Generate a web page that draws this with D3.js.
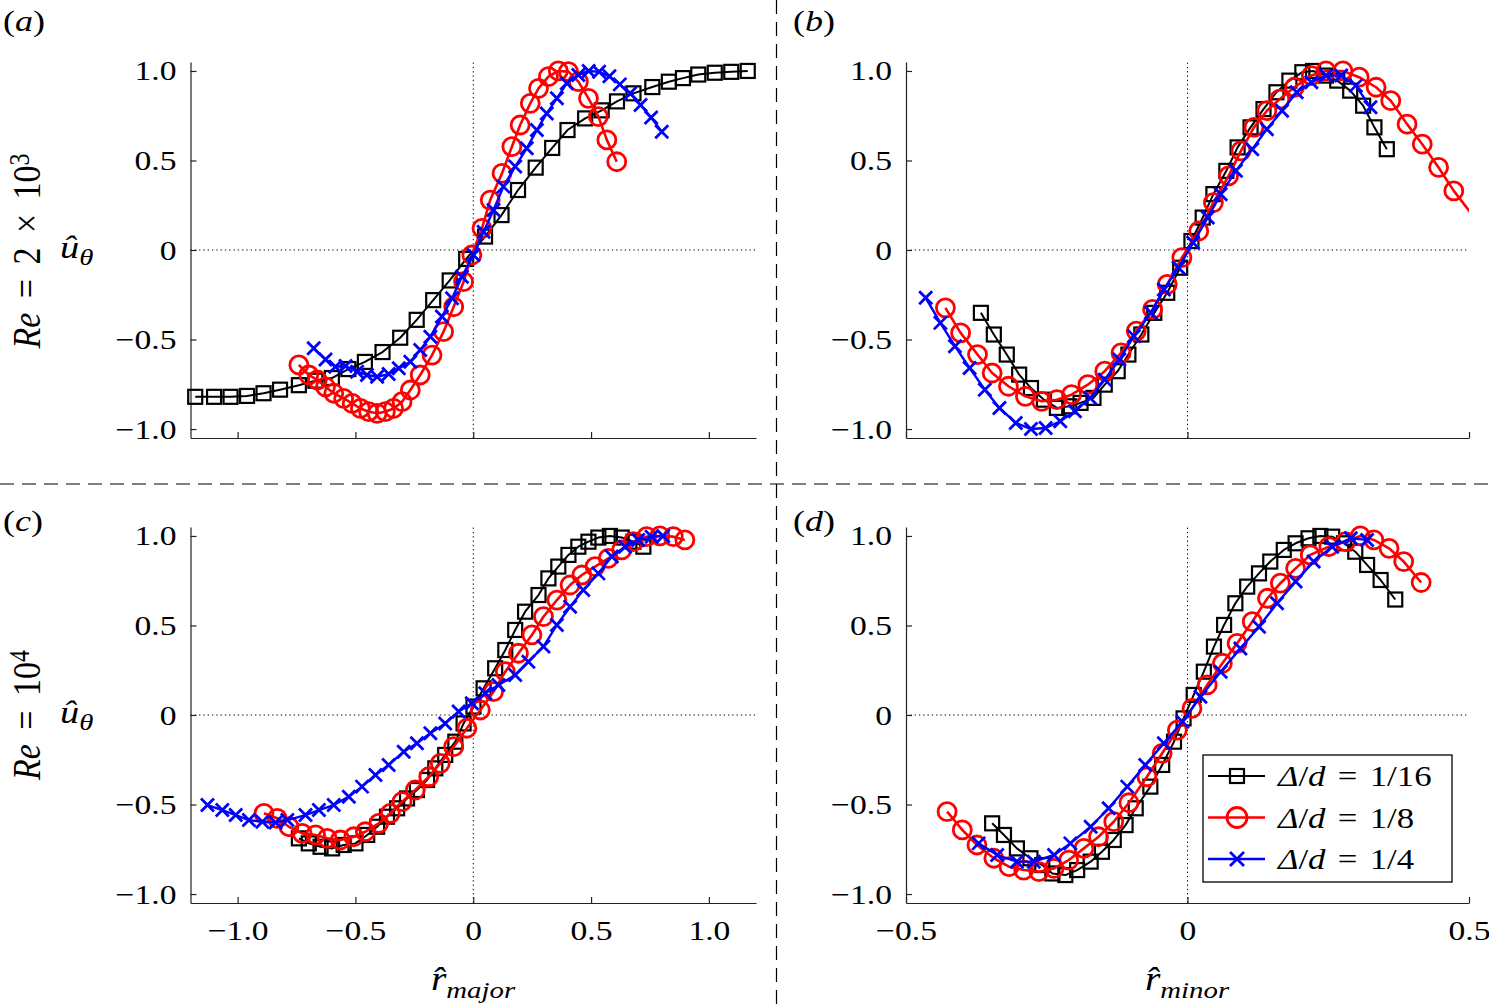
<!DOCTYPE html>
<html>
<head>
<meta charset="utf-8">
<script src="https://cdn.jsdelivr.net/npm/d3@7"></script>
<style>
  body { margin: 0; background: #fff; }
  svg { display: block; }
  text { font-family: "Liberation Serif", "Times New Roman", serif; fill: #000; }
</style>
</head>
<body>
<div id="chart"></div>
<script>
// ---- data: [r, u_theta] ----
// (a) Re = 2e3, major axis
const a16 = [[-1.18,-0.82],[-1.10,-0.82],[-1.03,-0.82],[-0.96,-0.815],[-0.89,-0.80],[-0.82,-0.78],[-0.74,-0.755],
  [-0.67,-0.73],[-0.60,-0.715],[-0.53,-0.665],[-0.46,-0.625],[-0.385,-0.57],[-0.31,-0.49],[-0.24,-0.39],[-0.17,-0.28],
  [-0.10,-0.17],[-0.03,-0.05],[0.05,0.075],[0.12,0.195],[0.19,0.335],[0.265,0.46],[0.335,0.57],[0.40,0.67],[0.475,0.735],
  [0.545,0.78],[0.61,0.83],[0.68,0.875],[0.76,0.91],[0.83,0.94],[0.89,0.96],[0.955,0.98],[1.025,0.99],[1.095,0.995],[1.165,1.0]]
const a8 = [[-0.74,-0.642],[-0.698,-0.698],[-0.662,-0.726],[-0.627,-0.764],[-0.592,-0.80],[-0.55,-0.829],[-0.514,-0.857],
  [-0.479,-0.885],[-0.444,-0.903],[-0.408,-0.912],[-0.373,-0.903],[-0.338,-0.885],[-0.302,-0.847],[-0.267,-0.782],
  [-0.225,-0.698],[-0.175,-0.587],[-0.126,-0.456],[-0.083,-0.317],[-0.041,-0.177],[-0.006,-0.028],[0.037,0.121],
  [0.072,0.279],[0.122,0.428],[0.164,0.577],[0.199,0.698],[0.242,0.819],[0.277,0.903],[0.319,0.968],[0.361,1.0],
  [0.404,0.996],[0.446,0.94],[0.489,0.847],[0.531,0.745],[0.567,0.615],[0.609,0.493]]
const a4 = [[-0.677,-0.549],[-0.627,-0.611],[-0.585,-0.652],[-0.542,-0.648],[-0.493,-0.68],[-0.451,-0.698],[-0.408,-0.708],
  [-0.359,-0.693],[-0.316,-0.661],[-0.267,-0.624],[-0.225,-0.559],[-0.182,-0.484],[-0.133,-0.372],[-0.09,-0.27],
  [-0.048,-0.149],[0.001,-0.028],[0.044,0.102],[0.086,0.223],[0.128,0.354],[0.178,0.466],[0.227,0.568],[0.27,0.67],
  [0.312,0.763],[0.355,0.847],[0.397,0.931],[0.446,0.978],[0.49,1.0],[0.534,0.995],[0.578,0.97],[0.622,0.925],
  [0.666,0.875],[0.71,0.81],[0.755,0.74],[0.80,0.661]]

// (b) Re = 2e3, minor axis
const b16 = [[-0.367,-0.351],[-0.344,-0.472],[-0.321,-0.584],[-0.299,-0.696],[-0.278,-0.771],[-0.255,-0.836],[-0.232,-0.882],
  [-0.21,-0.873],[-0.19,-0.854],[-0.167,-0.826],[-0.147,-0.752],[-0.124,-0.677],[-0.105,-0.584],[-0.082,-0.472],
  [-0.059,-0.351],[-0.036,-0.239],[-0.013,-0.099],[0.007,0.05],[0.027,0.181],[0.046,0.312],[0.069,0.442],[0.089,0.573],
  [0.112,0.685],[0.135,0.787],[0.158,0.881],[0.181,0.946],[0.204,0.993],[0.223,1.0],[0.246,0.974],[0.266,0.946],
  [0.289,0.89],[0.312,0.806],[0.332,0.685],[0.354,0.563]]
const b8 = [[-0.43,-0.323],[-0.403,-0.463],[-0.373,-0.584],[-0.347,-0.687],[-0.318,-0.761],[-0.288,-0.817],[-0.259,-0.845],
  [-0.232,-0.836],[-0.206,-0.808],[-0.177,-0.752],[-0.147,-0.677],[-0.118,-0.575],[-0.091,-0.453],[-0.062,-0.332],
  [-0.036,-0.192],[-0.01,-0.043],[0.02,0.106],[0.046,0.265],[0.073,0.414],[0.095,0.554],[0.118,0.685],[0.141,0.778],
  [0.164,0.843],[0.19,0.909],[0.22,0.974],[0.246,1.0],[0.276,1.0],[0.305,0.965],[0.335,0.909],[0.361,0.834],
  [0.39,0.703],[0.417,0.591],[0.446,0.461],[0.473,0.33],[0.505,0.2]]
const b4 = [[-0.465,-0.267],[-0.439,-0.407],[-0.413,-0.537],[-0.387,-0.659],[-0.36,-0.78],[-0.334,-0.882],[-0.305,-0.966],
  [-0.278,-1.0],[-0.252,-0.994],[-0.226,-0.957],[-0.2,-0.901],[-0.173,-0.826],[-0.147,-0.724],[-0.121,-0.612],
  [-0.095,-0.481],[-0.065,-0.351],[-0.042,-0.22],[-0.016,-0.099],[0.01,0.041],[0.036,0.181],[0.059,0.312],[0.086,0.442],
  [0.115,0.563],[0.141,0.675],[0.168,0.778],[0.194,0.881],[0.22,0.937],[0.246,0.974],[0.273,0.974],[0.299,0.918],
  [0.325,0.797]]

// (c) Re = 1e4, major axis
const c16 = [[-0.74,-0.689],[-0.698,-0.717],[-0.648,-0.736],[-0.599,-0.745],[-0.55,-0.726],[-0.5,-0.717],[-0.45,-0.67],
  [-0.408,-0.624],[-0.366,-0.568],[-0.323,-0.521],[-0.281,-0.466],[-0.239,-0.419],[-0.196,-0.363],[-0.161,-0.298],
  [-0.119,-0.223],[-0.076,-0.149],[-0.041,-0.047],[0.001,0.047],[0.044,0.149],[0.093,0.261],[0.136,0.363],[0.178,0.475],
  [0.22,0.577],[0.277,0.67],[0.319,0.763],[0.361,0.829],[0.404,0.894],[0.446,0.94],[0.489,0.968],[0.531,0.991],
  [0.58,1.0],[0.63,0.991],[0.68,0.968],[0.722,0.94]]
const c8 = [[-0.888,-0.549],[-0.832,-0.577],[-0.782,-0.624],[-0.726,-0.661],[-0.669,-0.67],[-0.62,-0.689],[-0.564,-0.698],
  [-0.507,-0.68],[-0.458,-0.652],[-0.401,-0.605],[-0.352,-0.549],[-0.302,-0.484],[-0.246,-0.419],[-0.189,-0.345],
  [-0.14,-0.27],[-0.083,-0.177],[-0.027,-0.074],[0.03,0.028],[0.086,0.13],[0.136,0.242],[0.192,0.345],[0.249,0.447],
  [0.298,0.549],[0.355,0.642],[0.411,0.726],[0.461,0.782],[0.517,0.829],[0.573,0.875],[0.63,0.922],[0.679,0.968],
  [0.736,0.996],[0.792,1.0],[0.849,0.996],[0.898,0.978]]
const c4 = [[-1.128,-0.503],[-1.065,-0.531],[-1.008,-0.559],[-0.952,-0.587],[-0.895,-0.596],[-0.839,-0.6],[-0.789,-0.587],
  [-0.712,-0.559],[-0.655,-0.531],[-0.592,-0.503],[-0.528,-0.456],[-0.472,-0.4],[-0.415,-0.335],[-0.359,-0.279],
  [-0.295,-0.205],[-0.239,-0.158],[-0.182,-0.102],[-0.119,-0.047],[-0.062,0.019],[-0.006,0.065],[0.051,0.121],
  [0.107,0.168],[0.178,0.223],[0.234,0.298],[0.298,0.382],[0.355,0.503],[0.411,0.605],[0.467,0.698],[0.531,0.791],
  [0.588,0.885],[0.644,0.94],[0.70,0.978],[0.757,0.996],[0.806,1.0]]

// (d) Re = 1e4, minor axis
const d16 = [[-0.347,-0.605],[-0.326,-0.67],[-0.303,-0.745],[-0.279,-0.80],[-0.258,-0.838],[-0.24,-0.885],[-0.217,-0.894],
  [-0.196,-0.866],[-0.172,-0.819],[-0.152,-0.764],[-0.131,-0.698],[-0.11,-0.615],[-0.092,-0.521],[-0.066,-0.4],
  [-0.045,-0.279],[-0.024,-0.149],[-0.007,-0.019],[0.011,0.112],[0.029,0.242],[0.047,0.382],[0.065,0.503],[0.085,0.624],
  [0.106,0.717],[0.127,0.791],[0.147,0.857],[0.171,0.922],[0.192,0.959],[0.215,0.987],[0.236,1.0],[0.257,0.996],
  [0.278,0.959],[0.298,0.912],[0.319,0.838],[0.343,0.754],[0.369,0.645]]
const d8 = [[-0.427,-0.54],[-0.40,-0.642],[-0.374,-0.726],[-0.344,-0.80],[-0.317,-0.847],[-0.291,-0.866],[-0.264,-0.875],
  [-0.237,-0.857],[-0.211,-0.81],[-0.184,-0.745],[-0.158,-0.68],[-0.131,-0.596],[-0.104,-0.49],[-0.072,-0.345],
  [-0.045,-0.214],[-0.018,-0.084],[0.008,0.037],[0.035,0.168],[0.062,0.289],[0.088,0.4],[0.115,0.521],[0.142,0.652],
  [0.165,0.736],[0.192,0.819],[0.218,0.894],[0.251,0.94],[0.281,0.968],[0.307,1.0],[0.331,0.978],[0.358,0.931],
  [0.384,0.857],[0.415,0.74]]
const d4 = [[-0.371,-0.717],[-0.338,-0.782],[-0.303,-0.819],[-0.273,-0.819],[-0.237,-0.782],[-0.208,-0.717],[-0.172,-0.624],
  [-0.14,-0.521],[-0.107,-0.4],[-0.075,-0.279],[-0.042,-0.158],[-0.009,-0.037],[0.023,0.102],[0.059,0.242],[0.094,0.372],
  [0.127,0.493],[0.159,0.624],[0.192,0.745],[0.224,0.857],[0.257,0.94],[0.29,0.987],[0.319,0.978]]

const majorTicks = [-1, -0.5, 0, 0.5, 1]
const minorTicks = [-0.5, 0, 0.5]
const yTicks = [-1, -0.5, 0, 0.5, 1]
const legendLabels = ["1/16", "1/8", "1/4"]

const w = 1489
const h = 1006
const sx = 1.2   // the figure's text is a bit wide

const styles = [
  { color: "#000", lw: 2, mw: 2.2, marker: "square" },
  { color: "#ff0000", lw: 2.6, mw: 2.8, marker: "circle" },
  { color: "#0000ff", lw: 2.4, mw: 2.8, marker: "cross" }
]

const svg = d3.select("#chart")
  .append("svg")
  .attr("width", w)
  .attr("height", h)

function stretched(g, x, y, anchor) {
  return g.append("text")
    .attr("transform", `translate(${x},${y}) scale(${sx},1)`)
    .attr("text-anchor", anchor)
}

function drawMarker(g, kind, color, width, size) {
  if (kind === "square") {
    g.append("rect").attr("x", -size / 2).attr("y", -size / 2)
      .attr("width", size).attr("height", size)
      .attr("fill", "none").attr("stroke", color).attr("stroke-width", width)
  } else if (kind === "circle") {
    g.append("circle").attr("r", size / 2)
      .attr("fill", "none").attr("stroke", color).attr("stroke-width", width)
  } else {
    const s = size / 2
    g.append("path").attr("d", `M${-s},${-s}L${s},${s}M${-s},${s}L${s},${-s}`)
      .attr("fill", "none").attr("stroke", color).attr("stroke-width", width)
  }
}
const markerSize = { square: 14, circle: 18, cross: 13 }

const fmt = d => d === 0 ? "0" : d3.format(".1f")(d)

const panels = [
  { id: "a", xr: [190.5, 756], yr: [438, 62], dom: [-1.2, 1.2], ticks: majorTicks, data: [a16, a8, a4], xlab: false },
  { id: "b", xr: [906, 1469], yr: [438, 62], dom: [-0.5, 0.5], ticks: minorTicks, data: [b16, b8, b4], xlab: false },
  { id: "c", xr: [190.5, 756], yr: [903, 527], dom: [-1.2, 1.2], ticks: majorTicks, data: [c16, c8, c4], xlab: true },
  { id: "d", xr: [906, 1469], yr: [903, 527], dom: [-0.5, 0.5], ticks: minorTicks, data: [d16, d8, d4], xlab: true }
]

panels.forEach(p => {
  const x = d3.scaleLinear().domain(p.dom).range(p.xr)
  const y = d3.scaleLinear().domain([-1.05, 1.05]).range(p.yr)
  const g = svg.append("g")

  g.append("clipPath").attr("id", "clip-" + p.id)
    .append("rect")
    .attr("x", p.xr[0]).attr("y", p.yr[1])
    .attr("width", p.xr[1] - p.xr[0]).attr("height", p.yr[0] - p.yr[1])

  // zero lines
  g.append("line")
    .attr("x1", x(0)).attr("x2", x(0)).attr("y1", p.yr[0]).attr("y2", p.yr[1])
    .attr("stroke", "#000").attr("stroke-width", 1).attr("stroke-dasharray", "1.3,3")
  g.append("line")
    .attr("x1", p.xr[0]).attr("x2", p.xr[1]).attr("y1", y(0)).attr("y2", y(0))
    .attr("stroke", "#000").attr("stroke-width", 1).attr("stroke-dasharray", "1.3,3")

  // axes, ticks inward
  const yAxis = d3.axisLeft(y).tickValues(yTicks).tickSizeInner(-6).tickSizeOuter(0).tickFormat(fmt)
  g.append("g").attr("transform", `translate(${p.xr[0]},0)`).call(yAxis)
    .call(a => a.selectAll(".tick text")
      .attr("x", null).attr("dy", null)
      .attr("transform", `translate(-14,9) scale(${sx},1)`)
      .attr("font-size", 28).attr("font-family", null))

  const xAxis = d3.axisBottom(x).tickValues(p.ticks).tickSizeInner(-6).tickSizeOuter(0)
    .tickFormat(p.xlab ? fmt : "")
  g.append("g").attr("transform", `translate(0,${p.yr[0]})`).call(xAxis)
    .call(a => a.selectAll(".tick text")
      .attr("y", null).attr("dy", null)
      .attr("transform", `translate(0,37) scale(${sx},1)`)
      .attr("font-size", 28).attr("font-family", null))

  g.selectAll(".domain, .tick line").attr("stroke", "#222").attr("stroke-width", 1.2)

  // series
  const line = d3.line().x(d => x(d[0])).y(d => y(d[1]))
  p.data.forEach((series, i) => {
    const st = styles[i]
    g.append("path").datum(series)
      .attr("clip-path", `url(#clip-${p.id})`)
      .attr("d", line)
      .attr("fill", "none").attr("stroke", st.color).attr("stroke-width", st.lw)
      .attr("stroke-linejoin", "round")
    g.selectAll(null)
      .data(series.filter(d => d[0] >= p.dom[0] && d[0] <= p.dom[1]))
      .enter().append("g")
      .attr("transform", d => `translate(${x(d[0])},${y(d[1])})`)
      .each(function () { drawMarker(d3.select(this), st.marker, st.color, st.mw, markerSize[st.marker]) })
  })
})

// panel letters
const letters = [["a", 3, 31], ["b", 793, 31], ["c", 3, 531], ["d", 793, 531]]
letters.forEach(([l, lx, ly]) => {
  const t = stretched(svg, lx, ly, "start").attr("font-size", 30)
  t.append("tspan").text("(")
  t.append("tspan").attr("font-style", "italic").text(l)
  t.append("tspan").text(")")
})

// row labels
function reLabel(cy, mant, exp) {
  const t = svg.append("text")
    .attr("transform", `translate(40,${cy}) scale(${sx},1) rotate(-90)`)
    .attr("text-anchor", "middle").attr("font-size", 34)
    .attr("word-spacing", 6)
  t.append("tspan").attr("font-style", "italic").text("Re")
  t.append("tspan").text(" = " + mant + "10")
  t.append("tspan").attr("font-size", 24).attr("dy", -9).text(exp)
}
reLabel(251, "2 × ", "3")
reLabel(715, "", "4")

function uLabel(by) {
  const t = stretched(svg, 60, by, "start").attr("font-size", 32).attr("font-style", "italic")
  t.append("tspan").text("û")
  t.append("tspan").attr("font-size", 24).attr("dy", 7).text("θ")
}
uLabel(258)
uLabel(723)

function rLabel(cx, sub) {
  const t = stretched(svg, cx, 990, "middle").attr("font-style", "italic")
  t.append("tspan").attr("font-size", 33).text("r\u0302")
  t.append("tspan").attr("font-size", 24).attr("dy", 8).text(sub)
}
rLabel(473, "major")
rLabel(1187, "minor")

// separators
svg.append("line").attr("x1", 776.5).attr("x2", 776.5).attr("y1", 0).attr("y2", h)
  .attr("stroke", "#000").attr("stroke-width", 1.2).attr("stroke-dasharray", "14,8")
svg.append("line").attr("x1", 0).attr("x2", w).attr("y1", 484).attr("y2", 484)
  .attr("stroke", "#000").attr("stroke-width", 1.2).attr("stroke-dasharray", "14,8")

// legend in panel d
const lg = svg.append("g")
lg.append("rect").attr("x", 1203).attr("y", 755).attr("width", 249).attr("height", 127)
  .attr("fill", "#fff").attr("stroke", "#000").attr("stroke-width", 1.3)
legendLabels.forEach((lab, i) => {
  const st = styles[i]
  const ry = 776 + i * 41.5
  lg.append("line").attr("x1", 1208).attr("x2", 1265).attr("y1", ry).attr("y2", ry)
    .attr("stroke", st.color).attr("stroke-width", st.lw)
  const m = lg.append("g").attr("transform", `translate(1237,${ry})`)
  drawMarker(m, st.marker, st.color, st.mw, st.marker === "circle" ? 20 : 14)
  const t = stretched(lg, 1278, ry + 10, "start").attr("font-size", 29).attr("word-spacing", 3)
  t.append("tspan").attr("font-style", "italic").text("Δ")
  t.append("tspan").text("/")
  t.append("tspan").attr("font-style", "italic").text("d")
  t.append("tspan").text(" = " + lab)
})
</script>
</body>
</html>
